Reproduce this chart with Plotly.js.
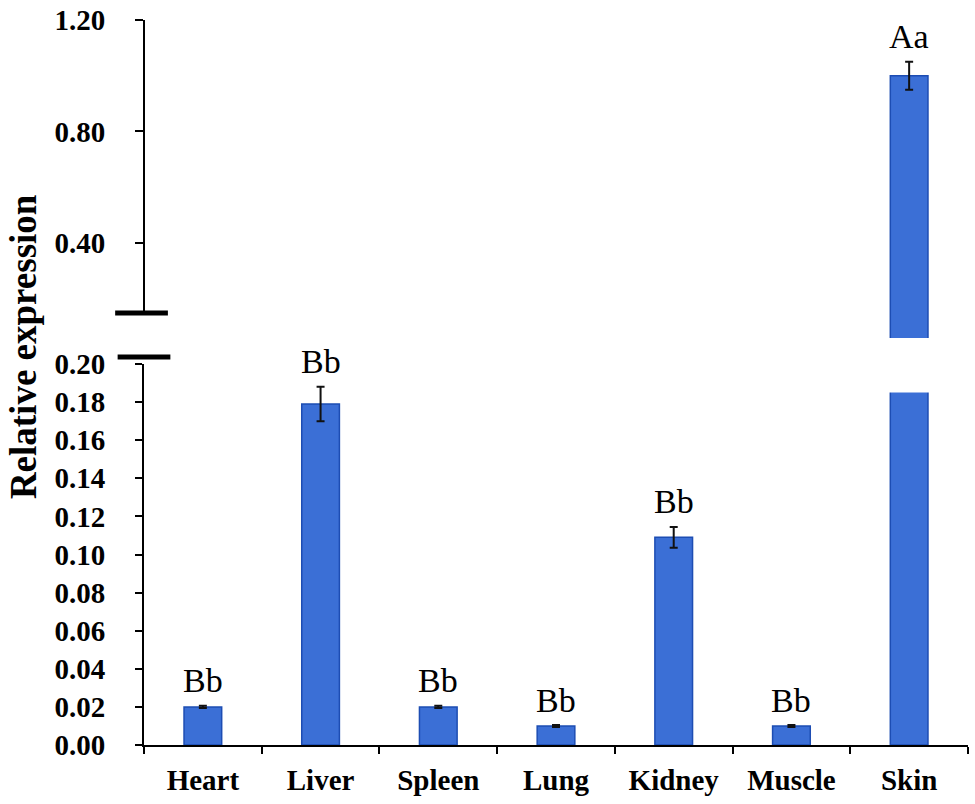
<!DOCTYPE html>
<html>
<head>
<meta charset="utf-8">
<script src="https://cdn.plot.ly/plotly-3.0.1.min.js"></script>
<style>html,body{margin:0;padding:0;background:#fff;}#chart{width:975px;height:804px;}</style>
</head>
<body>
<div id="chart"></div>
<script>
// ---- data ----
var categories = ["Heart", "Liver", "Spleen", "Lung", "Kidney", "Muscle", "Skin"];
var expression = [0.020, 0.179, 0.020, 0.010, 0.109, 0.010, 1.000];
var errors     = [0.0006, 0.009, 0.0006, 0.0005, 0.0055, 0.0005, 0.050];
var letters    = ["Bb", "Bb", "Bb", "Bb", "Bb", "Bb", "Aa"];
var lowerTicks = [0, 0.02, 0.04, 0.06, 0.08, 0.10, 0.12, 0.14, 0.16, 0.18, 0.20];
var upperTicks = [0.40, 0.80, 1.20];
var lowerMax = 0.20;

// ---- styling ----
var serif = "Liberation Serif, Times New Roman, serif";
var barFill = "#3B6FD6";
var barEdge = "#1D4DB3";

// upper panel only carries the bars that exceed the lower axis
var upX = [], upY = [], upE = [];
var lowE = [];
categories.forEach(function (c, i) {
  if (expression[i] > lowerMax) { upX.push(c); upY.push(expression[i]); upE.push(errors[i]); lowE.push(0); }
  else { lowE.push(errors[i]); }
});

var lower = {
  type: "bar", x: categories, y: expression, xaxis: "x", yaxis: "y",
  width: 0.32,
  marker: { color: barFill, line: { color: barEdge, width: 1.5 } },
  error_y: { type: "data", array: lowE, visible: true, color: "#111", thickness: 2, width: 4 },
  hoverinfo: "x+y", showlegend: false
};
var upper = {
  type: "bar", x: upX, y: upY, xaxis: "x2", yaxis: "y2",
  width: 0.32,
  marker: { color: barFill, line: { color: barEdge, width: 1.5 } },
  error_y: { type: "data", array: upE, visible: true, color: "#111", thickness: 2, width: 4 },
  hoverinfo: "x+y", showlegend: false
};

var annotations = categories.map(function (c, i) {
  var isUp = expression[i] > lowerMax;
  return {
    x: c, y: expression[i] + errors[i], xref: isUp ? "x2" : "x", yref: isUp ? "y2" : "y",
    text: letters[i], showarrow: false, yanchor: "middle", yshift: 25,
    font: { family: serif, size: 34, color: "#000" }
  };
});
// y-axis title (spans both panels of the broken axis)
annotations.push({
  x: -0.147, y: 0.55, xref: "paper", yref: "paper", xanchor: "center", yanchor: "middle",
  text: "Relative expression", textangle: -90, showarrow: false,
  font: { family: serif, size: 37, color: "#000", weight: "bold" }
});

var skinIdx = categories.indexOf("Skin");
var shapes = [
  // upper axis line (broken axis)
  { type: "line", xref: "paper", yref: "y2", x0: 0, x1: 0, y0: 0.149, y1: 1.20, line: { color: "#000", width: 2 } },
  // break marks
  { type: "line", xref: "paper", yref: "paper", x0: -0.035, x1: 0.029, y0: 0.5959, y1: 0.5959, line: { color: "#000", width: 5 } },
  { type: "line", xref: "paper", yref: "paper", x0: -0.032, x1: 0.032, y0: 0.5352, y1: 0.5352, line: { color: "#000", width: 5 } },
  // gap in the Skin bar at the break
  { type: "rect", xref: "x", yref: "y", x0: skinIdx - 0.3, x1: skinIdx + 0.3, y0: 0.185, y1: 0.21,
    fillcolor: "#fff", line: { width: 0 }, layer: "above" }
];

var tickFont = { family: serif, size: 29, color: "#000", weight: "bold" };

var layout = {
  width: 975, height: 804,
  margin: { l: 144, r: 7, t: 20, b: 59 },
  paper_bgcolor: "#fff", plot_bgcolor: "rgba(0,0,0,0)",
  xaxis: {
    type: "category", categoryorder: "array", categoryarray: categories,
    domain: [0, 1], anchor: "y",
    showline: true, linecolor: "#000", linewidth: 2,
    ticks: "outside", tickson: "boundaries", ticklen: 7, tickwidth: 2, tickcolor: "#000",
    tickfont: tickFont, ticklabelstandoff: 8, showgrid: false, zeroline: false
  },
  xaxis2: {
    matches: "x", anchor: "y2", domain: [0, 1], visible: false,
    type: "category", categoryorder: "array", categoryarray: categories
  },
  yaxis: {
    domain: [0, 0.5255], anchor: "x", range: [0, 0.20],
    tickvals: lowerTicks, tickformat: ".2f",
    showline: true, linecolor: "#000", linewidth: 2,
    ticks: "outside", ticklen: 7, tickwidth: 2, tickcolor: "#000",
    tickfont: tickFont, ticklabelstandoff: 24, showgrid: false, zeroline: false
  },
  yaxis2: {
    domain: [0.5614, 1], anchor: "x2", range: [0.059, 1.20],
    tickvals: upperTicks, tickformat: ".2f",
    showline: false,
    ticks: "outside", ticklen: 8, tickwidth: 2, tickcolor: "#000",
    tickfont: tickFont, ticklabelstandoff: 24, showgrid: false, zeroline: false
  },
  annotations: annotations,
  shapes: shapes
};

Plotly.newPlot("chart", [lower, upper], layout, { displayModeBar: false, staticPlot: true });
</script>
</body>
</html>
